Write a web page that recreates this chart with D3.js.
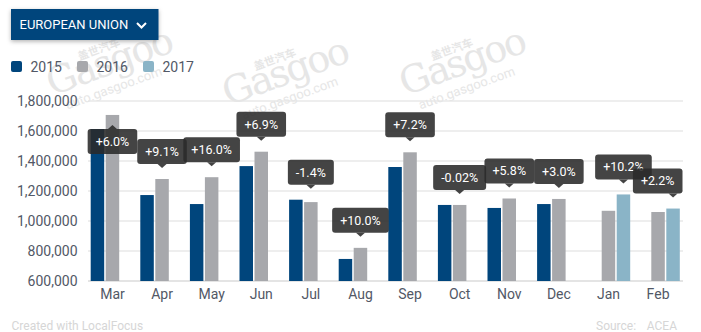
<!DOCTYPE html>
<html>
<head>
<meta charset="utf-8">
<script src="https://cdn.jsdelivr.net/npm/d3@7"></script>
<style>
  html, body { margin: 0; padding: 0; background: #fff; }
  svg { display: block; font-family: Roboto, "Noto Sans", sans-serif; }
</style>
</head>
<body>
<svg id="chart" width="701" height="332"></svg>
<script>
// ---- data ----
const months = ["Mar","Apr","May","Jun","Jul","Aug","Sep","Oct","Nov","Dec","Jan","Feb"];
const seriesNames = ["2015","2016","2017"];
const v2015 = [1613000,1173000,1113000,1366000,1142000,747000,1360000,1107000,1087000,1113000,null,null];
const v2016 = [1707000,1280000,1292000,1462000,1126000,821000,1458000,1107000,1150000,1147000,1068000,1060000];
const v2017 = [null,null,null,null,null,null,null,null,null,null,1177000,1083000];
const changes = ["+6.0%","+9.1%","+16.0%","+6.9%","-1.4%","+10.0%","+7.2%","-0.02%","+5.8%","+3.0%","+10.2%","+2.2%"];
const yTicks = [600000,800000,1000000,1200000,1400000,1600000,1800000];
const colors = {"2015":"#00457c","2016":"#a7a8ac","2017":"#8ab4c7"};

const svg = d3.select("#chart");
const textCol = "#525866";

// defs
const defs = svg.append("defs");
const f = defs.append("filter").attr("id","sh").attr("x","-20%").attr("y","-30%").attr("width","140%").attr("height","170%");
f.append("feDropShadow").attr("dx",0).attr("dy",1.5).attr("stdDeviation",2).attr("flood-color","#000").attr("flood-opacity",0.3);

// scales
const x0 = d3.scaleBand().domain(months).range([90.7,679.8]).paddingInner(0.123).paddingOuter(0);
const x1 = d3.scaleBand().domain(seriesNames).range([0,x0.bandwidth()]).paddingInner(0.1);
const y = d3.scaleLinear().domain([600000,1800000]).range([281,101]);

// grid
const grid = svg.append("g");
yTicks.forEach(t=>{
  grid.append("line").attr("x1",88).attr("x2",683).attr("y1",y(t)).attr("y2",y(t))
    .attr("stroke", t===600000 ? "#e4e4e4" : "#eeeeee").attr("stroke-width",2);
});

// watermarks
const wmX = [52,228,405];
const wmY = [96,106,96];
wmX.forEach((wx,i)=>{
  const g = svg.append("g").attr("transform",`translate(${wx},${wmY[i]}) rotate(-20)`).attr("fill","#e6e6e6");
  g.append("text").attr("x",38).attr("y",-24).attr("font-size",11).attr("font-weight","bold")
    .attr("font-family","'Noto Sans CJK SC', sans-serif").text("盖世汽车");
  g.append("text").attr("x",0).attr("y",0).attr("font-size",38).attr("font-family","'DejaVu Serif', serif").attr("letter-spacing",-2).text("Gasgoo");
  g.append("text").attr("x",10).attr("y",18).attr("font-size",13).text("auto.gasgoo.com");
});

// header button
svg.append("rect").attr("x",11).attr("y",9).attr("width",147.5).attr("height",31)
  .attr("fill","#00457c").attr("filter","url(#sh)");
svg.append("text").attr("x",19.5).attr("y",29).attr("fill","#fff").attr("font-size",13)
  .text("EUROPEAN UNION");
svg.append("polyline").attr("points","137,23 141.5,27.5 146,23").attr("fill","none")
  .attr("stroke","#fff").attr("stroke-width",2);

// legend
const legX = [11,77,143];
seriesNames.forEach((s,i)=>{
  svg.append("rect").attr("x",legX[i]).attr("y",61).attr("width",11).attr("height",11).attr("rx",2)
    .attr("fill",colors[s]);
  svg.append("text").attr("x",legX[i]+19.5).attr("y",71.5).attr("font-size",14).attr("fill",textCol).text(s);
});

// y axis labels
const yAxis = d3.axisLeft(y).tickValues(yTicks).tickFormat(d3.format(",")).tickSize(0).tickPadding(0);
const ya = svg.append("g").attr("transform","translate(77.5,0)").call(yAxis);
ya.select(".domain").remove();
ya.selectAll("text").attr("font-size",14).attr("fill",textCol).attr("font-family","Roboto, sans-serif");

// bars
const series = {"2015":v2015,"2016":v2016,"2017":v2017};
const bars = svg.append("g");
months.forEach((m,i)=>{
  seriesNames.forEach(s=>{
    const v = series[s][i];
    if (v==null) return;
    bars.append("rect")
      .attr("x", x0(m)+x1(s)).attr("width", x1.bandwidth())
      .attr("y", y(v)).attr("height", y(600000)-y(v))
      .attr("fill", colors[s]);
  });
});

// x labels
const xAxis = d3.axisBottom(x0).tickSize(0).tickPadding(0);
const xa = svg.append("g").attr("transform","translate(0,286)").call(xAxis);
xa.select(".domain").remove();
xa.selectAll("text").attr("font-size",14).attr("fill",textCol).attr("font-family","Roboto, sans-serif").attr("dy","0.95em");

// tooltips
const tips = svg.append("g");
months.forEach((m,i)=>{
  const latest = v2017[i]!=null ? "2017" : "2016";
  const topV = d3.max([v2015[i],v2016[i],v2017[i]].filter(v=>v!=null));
  const tx = x0(m)+x1(latest)+x1.bandwidth()/2;
  const g = tips.append("g");
  const t = g.append("text").attr("font-size",12.5).attr("fill","#fff").attr("text-anchor","middle").text(changes[i]);
  const tw = t.node().getComputedTextLength();
  const bw = tw+16, bh = 25;
  let tipY = y(topV)-11;
  let flip = false;
  let boxY = tipY-4-bh;
  if (boxY < 95) { flip = true; tipY = y(topV)+10; boxY = tipY+4; }
  let bx = tx-bw/2;
  if (bx+bw > 682.5) bx = 682.5-bw;
  const fill = "rgb(42,42,42)";
  g.insert("rect","text").attr("x",bx).attr("y",boxY).attr("width",bw).attr("height",bh).attr("rx",3)
    .attr("fill",fill).attr("fill-opacity",0.88);
  const pts = flip
    ? `${tx-4.5},${boxY} ${tx},${tipY} ${tx+4.5},${boxY}`
    : `${tx-4.5},${boxY+bh} ${tx},${tipY} ${tx+4.5},${boxY+bh}`;
  g.insert("polygon","text").attr("points",pts).attr("fill",fill).attr("fill-opacity",0.88);
  t.attr("x",bx+bw/2).attr("y",boxY+bh/2+4.4);
});

// footer
svg.append("text").attr("x",11.5).attr("y",330).attr("font-size",12).attr("fill","#d6d6d6").text("Created with LocalFocus");
svg.append("text").attr("x",596).attr("y",330).attr("font-size",12).attr("fill","#d6d6d6").text("Source:");
svg.append("text").attr("x",677).attr("y",330).attr("font-size",12).attr("fill","#d6d6d6").attr("text-anchor","end").text("ACEA");
</script>
</body>
</html>
